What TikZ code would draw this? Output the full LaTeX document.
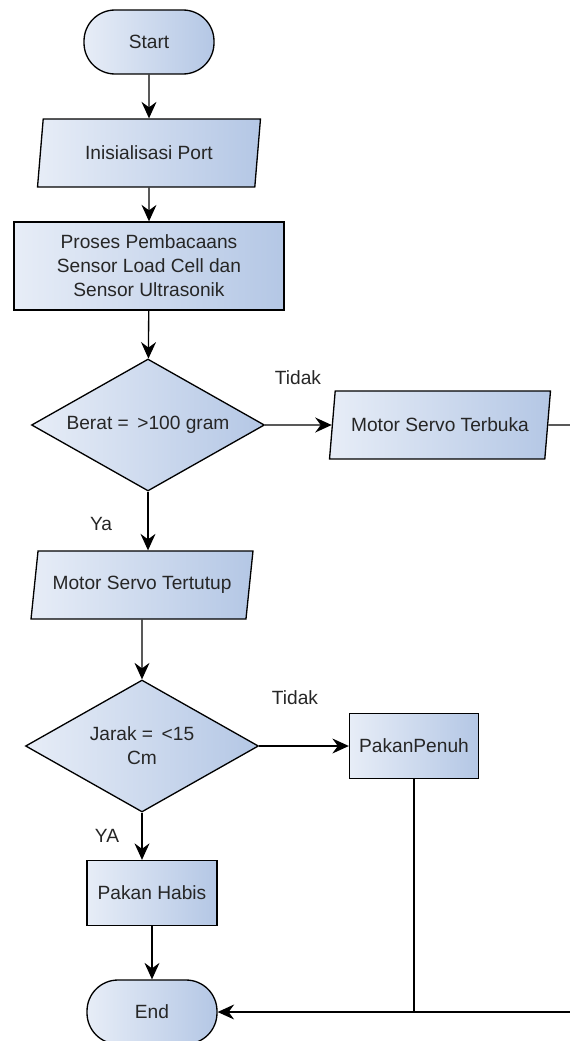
\documentclass[tikz,border=0pt]{standalone}
\usepackage{fontspec}
\setmainfont{Liberation Sans}
\usetikzlibrary{shapes.geometric,arrows.meta}
\definecolor{boxlight}{HTML}{E7EDF7}
\definecolor{boxdark}{HTML}{B4C7E5}
\definecolor{txtgray}{HTML}{262626}
\tikzset{
  base/.style={draw=black, line width=0.75pt, left color=boxlight, right color=boxdark,
    text=txtgray, align=center, inner sep=0pt, font=\fontsize{10.9}{13.6}\selectfont},
  terminal/.style={base, rectangle, rounded corners=0.62cm, minimum width=2.6cm, minimum height=1.28cm},
  process/.style={base, rectangle},
  io/.style={base, trapezium, trapezium left angle=68, trapezium right angle=112,
    trapezium stretches body, minimum height=1.36cm},
  decision/.style={base, diamond, shape aspect=1.76, minimum width=4.66cm, minimum height=2.64cm},
  flow/.style={line width=0.75pt, -{Stealth[length=3.3mm,width=3mm,inset=1.1mm]}},
  plain/.style={line width=0.75pt},
  lbl/.style={text=txtgray, font=\fontsize{10.9}{13.6}\selectfont}
}
\begin{document}
\begin{tikzpicture}[x=0.02cm, y=-0.02cm]
  \useasboundingbox (0,0) rectangle (570,1041);
  \node[terminal] (start) at (149,42) {Start};
  \node[io, minimum width=4.46cm] (init) at (149,153) {Inisialisasi Port};
  \node[process, minimum width=5.4cm, minimum height=1.76cm] (baca) at (149,266)
    {Proses Pembacaans\\Sensor Load Cell dan\\ Sensor Ultrasonik};
  \node[decision] (berat) at (148,425) {Berat = \,>100 gram};
  \node[io, minimum width=4.42cm] (buka) at (440,425) {Motor Servo Terbuka};
  \node[io, minimum width=4.44cm] (tutup) at (142,585) {Motor Servo Tertutup};
  \node[decision] (jarak) at (142,746) {Jarak = \,<15\\Cm};
  \node[process, minimum width=2.58cm, minimum height=1.3cm] (penuh) at (414,746) {PakanPenuh};
  \node[process, minimum width=2.6cm, minimum height=1.3cm] (habis) at (152,893) {Pakan Habis};
  \node[terminal] (end) at (152,1012) {End};

  \node[lbl] (tidak1) at (298,378) {Tidak};
  \node[lbl] (ya1) at (101,524) {Ya};
  \node[lbl] (tidak2) at (295,698) {Tidak};
  \node[lbl] (ya2) at (107,836) {YA};

  \coordinate (kanan1) at (600,425);
  \coordinate (kanan2) at (600,1012);

  \draw[flow] (start) -- (init);
  \draw[flow] (init) -- (baca);
  \draw[flow] (baca) -- (berat);
  \draw[flow] (berat) -- (buka);
  \draw[flow] (berat.south) -- (berat.south |- tutup.north);
  \draw[flow] (tutup.south) -- (jarak.north);
  \draw[flow] (jarak) -- (penuh);
  \draw[flow] (jarak.south) -- (jarak.south |- habis.north);
  \draw[flow] (habis) -- (end);
  \draw[plain] (buka.east) -- (kanan1) -- (kanan2);
  \draw[plain] (penuh.south) -- (penuh.south |- end.east);
  \draw[flow] (kanan2) -- (end.east);
\end{tikzpicture}
\end{document}
